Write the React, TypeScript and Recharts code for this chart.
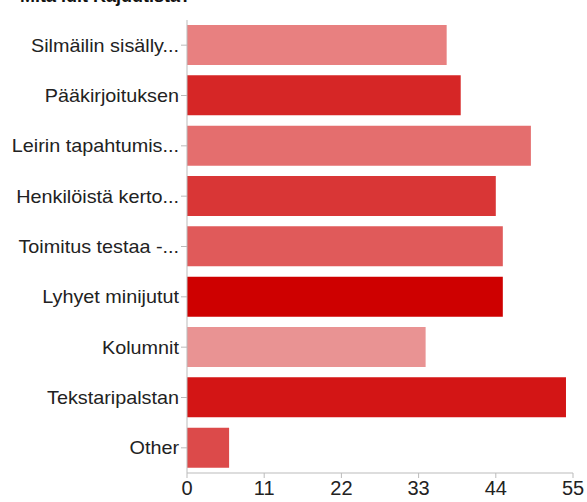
import React from "react";
import { BarChart, Bar, XAxis, YAxis, Cell } from "recharts";

const categories = [
  "Silmäilin sisälly...",
  "Pääkirjoituksen",
  "Leirin tapahtumis...",
  "Henkilöistä kerto...",
  "Toimitus testaa -...",
  "Lyhyet minijutut",
  "Kolumnit",
  "Tekstaripalstan",
  "Other",
];
const values = [37, 39, 49, 44, 45, 45, 34, 54, 6];
const colors = [
  "#E88080",
  "#D62626",
  "#E46E6E",
  "#D93636",
  "#E05A5A",
  "#CE0000",
  "#E99393",
  "#D31515",
  "#DC4A4A",
];
const xTicks = [0, 11, 22, 33, 44, 55];
const title = "Mitä luit Kajuutista?";

const data = categories.map((name, i) => ({ name, value: values[i] }));

const FONT = "'Liberation Sans', Arial, Helvetica, sans-serif";

if (typeof document !== "undefined") {
  document.body.style.margin = "0";
  document.documentElement.style.overflow = "hidden";
  document.body.style.overflow = "hidden";
}

const YTick = (props: any) => {
  const { x, y, payload } = props;
  return (
    <text
      x={0}
      y={0}
      transform={`translate(${x},${y}) scale(1.1,1)`}
      textAnchor="end"
      dy="0.355em"
      fontSize={18}
      fill="#222"
      fontFamily={FONT}
    >
      {payload.value}
    </text>
  );
};

const XTick = (props: any) => {
  const { x, y, payload } = props;
  return (
    <text
      x={0}
      y={0}
      transform={`translate(${x},${y})`}
      textAnchor="middle"
      dy="0.71em"
      fontSize={20}
      fill="#222"
      fontFamily={FONT}
    >
      {payload.value}
    </text>
  );
};

export default function App() {
  return (
    <div style={{ position: "relative", width: 587, height: 502, background: "#fff", overflow: "hidden" }}>
      <div
        style={{
          position: "absolute",
          left: 20,
          top: -13,
          fontFamily: FONT,
          fontWeight: "bold",
          fontSize: 18,
          lineHeight: "18px",
          color: "#111",
          whiteSpace: "nowrap",
        }}
      >
        {title}
      </div>
      <BarChart
        width={587}
        height={502}
        data={data}
        layout="vertical"
        margin={{ top: 20, right: 14, bottom: 0, left: 0 }}
        barCategoryGap="10%"
      >
        <XAxis
          type="number"
          domain={[0, 55]}
          ticks={xTicks}
          interval={0}
          height={29}
          tickSize={5}
          tickMargin={3}
          stroke="#bbb"
          tick={<XTick />}
        />
        <YAxis
          type="category"
          dataKey="name"
          width={187}
          tickSize={6}
          tickMargin={2}
          interval={0}
          stroke="#bbb"
          tick={<YTick />}
        />
        <Bar dataKey="value" isAnimationActive={false}>
          {data.map((d, i) => (
            <Cell key={d.name} fill={colors[i]} />
          ))}
        </Bar>
      </BarChart>
    </div>
  );
}
